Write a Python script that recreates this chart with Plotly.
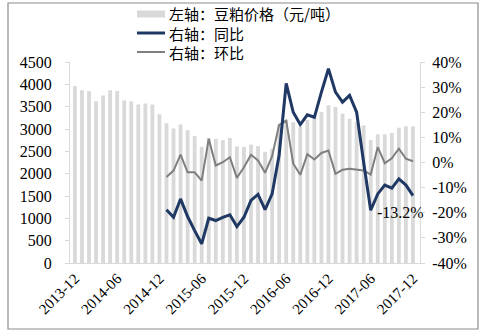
import plotly.graph_objects as go

# Monthly categories 2013-12 .. 2017-12
months = [f"{y}-{m:02d}" for y in range(2013, 2018) for m in range(1, 13)][11:]

# Soybean meal price (yuan/ton), left axis
price = [3960, 3870, 3850, 3620, 3750, 3870, 3850, 3640, 3620, 3550,
         3570, 3550, 3330, 3130, 3010, 3100, 2970, 2840, 2600, 2800,
         2780, 2750, 2800, 2610, 2600, 2650, 2620, 2490, 2560, 3100,
         3200, 3150, 3050, 3200, 3300, 3380, 3530, 3490, 3340, 3230,
         3150, 3080, 2750, 2880, 2880, 2910, 3030, 3060, 3060]

# Year-over-year and month-over-month change (%), right axis, from 2015-01
line_months = months[13:]
yoy = [-18.8, -21.8, -14.5, -21.5, -27.1, -32.4, -22.2, -23.1, -21.8, -20.8,
       -25.5, -21.8, -15.1, -12.7, -18.8, -12.5, 3.0, 31.5, 20.0, 15.1,
       19.0, 18.0, 28.0, 37.3, 28.0, 24.0, 26.7, 20.0, 0.0, -19.0,
       -12.5, -9.0, -10.2, -6.5, -9.0, -13.2]
mom = [-5.8, -3.2, 3.1, -3.9, -3.9, -7.2, 9.4, -1.2, 0.1, 2.1,
       -6.1, -1.9, 3.1, 0.8, -4.1, 2.5, 15.0, 16.7, -0.5, -4.9,
       3.3, 1.2, 3.8, 4.8, -4.5, -2.9, -2.5, -2.8, -3.2, -4.8,
       6.1, -0.3, 1.7, 5.5, 1.5, 0.5]

x_ticks = months[::6]
left_ticks = list(range(0, 4501, 500))
right_ticks = list(range(-40, 41, 10))
right_text = [f"{v}%" for v in right_ticks]

legend_names = ["左轴：豆粕价格（元/吨）", "右轴：同比", "右轴：环比"]

BAR_C = "#d9d9d9"
NAVY = "#1f3864"
GRAY = "#7f7f7f"
AXIS_C = "#d9d9d9"
SERIF = "Liberation Serif, Times New Roman, serif"
CJK = "Noto Sans CJK SC"

W, H = 485, 330
L, R, T, B = 70, 65, 62, 67
PW, PH = W - L - R, H - T - B


def px(xp):
    return (xp - L) / PW


def py(yp):
    return (T + PH - yp) / PH


fig = go.Figure()
fig.add_trace(go.Bar(x=months, y=price, marker_color=BAR_C, marker_line_width=0,
                     yaxis="y", showlegend=False))
fig.add_trace(go.Scatter(x=line_months, y=mom, mode="lines", yaxis="y2",
                         line=dict(color=GRAY, width=2), showlegend=False))
fig.add_trace(go.Scatter(x=line_months, y=yoy, mode="lines", yaxis="y2",
                         line=dict(color=NAVY, width=3), showlegend=False))

# end-point label for the YoY series
fig.add_annotation(x=line_months[-1], y=yoy[-1], xref="x", yref="y2",
                   text=f"{yoy[-1]}%", showarrow=False, xanchor="right",
                   xshift=13, yshift=-17,
                   font=dict(family=SERIF, size=16, color="black"))

shapes = []
# outer frame
shapes.append(dict(type="rect", xref="paper", yref="paper",
                   x0=px(8), x1=px(478), y0=py(329), y1=py(3),
                   line=dict(color="#8c8c8c", width=1.2), fillcolor="rgba(0,0,0,0)"))
# legend swatches
rows = [14, 33, 52]
shapes.append(dict(type="rect", xref="paper", yref="paper",
                   x0=px(137), x1=px(165), y0=py(rows[0] + 3.5), y1=py(rows[0] - 3.5),
                   line=dict(width=0), fillcolor=BAR_C))
shapes.append(dict(type="line", xref="paper", yref="paper",
                   x0=px(137), x1=px(165), y0=py(rows[1]), y1=py(rows[1]),
                   line=dict(color=NAVY, width=3)))
shapes.append(dict(type="line", xref="paper", yref="paper",
                   x0=px(137), x1=px(165), y0=py(rows[2]), y1=py(rows[2]),
                   line=dict(color=GRAY, width=2)))
for name, yc in zip(legend_names, rows):
    fig.add_annotation(x=px(168), y=py(yc), xref="paper", yref="paper",
                       text=name, showarrow=False, xanchor="left", yanchor="middle",
                       borderpad=0,
                       font=dict(family=CJK, size=15, color="black"))

fig.update_layout(
    width=W, height=H,
    margin=dict(l=L, r=R, t=T, b=B),
    paper_bgcolor="white", plot_bgcolor="white",
    bargap=0.46,
    shapes=shapes,
    xaxis=dict(type="category", range=[-0.7, 49.0], tickmode="array",
               tickvals=x_ticks, ticktext=x_ticks, tickangle=-45,
               showline=True, linecolor=AXIS_C, linewidth=1, ticks="",
               showgrid=False, zeroline=False,
               tickfont=dict(family=SERIF, size=15, color="black")),
    yaxis=dict(range=[0, 4500], tickmode="array", tickvals=left_ticks,
               ticktext=[str(v) for v in left_ticks],
               showline=True, linecolor=AXIS_C, linewidth=1,
               ticks="outside", ticklen=4, tickcolor=AXIS_C,
               ticklabelstandoff=10,
               showgrid=False, zeroline=False,
               tickfont=dict(family=SERIF, size=16, color="black")),
    yaxis2=dict(range=[-40, 40], overlaying="y", side="right", anchor="x",
                tickmode="array", tickvals=right_ticks, ticktext=right_text,
                showline=True, linecolor=AXIS_C, linewidth=1,
                ticks="outside", ticklen=4, tickcolor=AXIS_C,
                ticklabelstandoff=4,
                showgrid=False, zeroline=False,
                tickfont=dict(family=SERIF, size=16, color="black")),
)

fig.write_html("out.html")
